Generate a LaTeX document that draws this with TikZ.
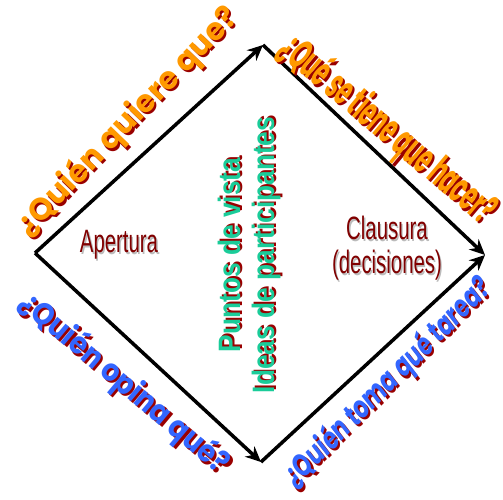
\documentclass[tikz,border=0pt]{standalone}
\usepackage{fontspec}
\setmainfont{Liberation Sans}
\newfontfamily\roundfont{Poppins}
\usetikzlibrary{arrows.meta, calc}

\definecolor{qorange}{HTML}{FF9900}
\definecolor{qblue}{HTML}{3366FF}
\definecolor{qshadow}{HTML}{990000}
\definecolor{phasered}{HTML}{800000}
\definecolor{phaseshadow}{HTML}{BBBBBB}
\definecolor{ideagreen}{HTML}{1ACC99}

\begin{document}
\begin{tikzpicture}[
    x=0.025cm, y=-0.025cm,
    flow/.style={
        -{Stealth[length=11pt, width=10pt]},
        line width=2.5pt,
        black
    },
    question/.style={
        inner sep=0pt,
        font=\roundfont\bfseries\fontsize{22}{26}\selectfont
    },
    phase/.style={
        inner sep=0pt,
        xscale=0.63,
        align=center,
        font=\fontsize{23}{24}\selectfont
    },
    idea/.style={
        inner sep=0pt,
        rotate=90,
        xscale=0.85,
        font=\bfseries\fontsize{22}{24}\selectfont
    },
    drop/.style={
        xshift=1.5pt,
        yshift=-1.5pt
    }
]

    \useasboundingbox (0,0) rectangle (503,499);

    % Corners of the diamond
    \coordinate (left) at (35,253);
    \coordinate (top) at (263,45);
    \coordinate (right) at (485,255);
    \coordinate (bottom) at (261,462);

    % Arrows
    \draw[flow] (left) -- (top);
    \draw[flow] (top) -- (right);
    \draw[flow] (left) -- (bottom);
    \draw[flow] (bottom) -- (right);

    % Questions along the edges
    \node[question, drop, rotate=46, text=qshadow] (wantS) at (128,122) {¿Quién quiere que?};
    \node[question, rotate=46, text=qorange] (want) at (128,122) {¿Quién quiere que?};

    \node[question, drop, rotate=-40, xscale=0.68, yscale=1.35, text=qshadow] (todoS) at (387,130) {¿Qué se tiene que hacer?};
    \node[question, rotate=-40, xscale=0.68, yscale=1.35, text=qorange] (todo) at (387,130) {¿Qué se tiene que hacer?};

    \node[question, drop, rotate=-40, xscale=0.9, text=qshadow] (opineS) at (124,384) {¿Quién opina qué?};
    \node[question, rotate=-40, xscale=0.9, text=qblue] (opine) at (124,384) {¿Quién opina qué?};

    \node[question, drop, rotate=45, xscale=0.73, text=qshadow, font=\roundfont\bfseries\itshape\fontsize{22}{26}\selectfont] (takeS) at (388,383) {¿Quién toma qué tarea?};
    \node[question, rotate=45, xscale=0.73, text=qblue, font=\roundfont\bfseries\itshape\fontsize{22}{26}\selectfont] (take) at (388,383) {¿Quién toma qué tarea?};

    % Phases
    \node[phase, drop, text=phaseshadow] (openS) at (119,245) {Apertura};
    \node[phase, text=phasered] (open) at (119,245) {Apertura};

    \node[phase, drop, text=phaseshadow] (closeS) at (387,248) {Clausura\\(decisiones)};
    \node[phase, text=phasered] (close) at (387,248) {Clausura\\(decisiones)};

    % Middle
    \node[idea, drop, text=qshadow] (viewsS) at (229,255) {Puntos de vista};
    \node[idea, text=ideagreen] (views) at (229,255) {Puntos de vista};

    \node[idea, drop, text=qshadow] (ideasS) at (266,255) {Ideas de participantes};
    \node[idea, text=ideagreen] (ideas) at (266,255) {Ideas de participantes};

\end{tikzpicture}
\end{document}
